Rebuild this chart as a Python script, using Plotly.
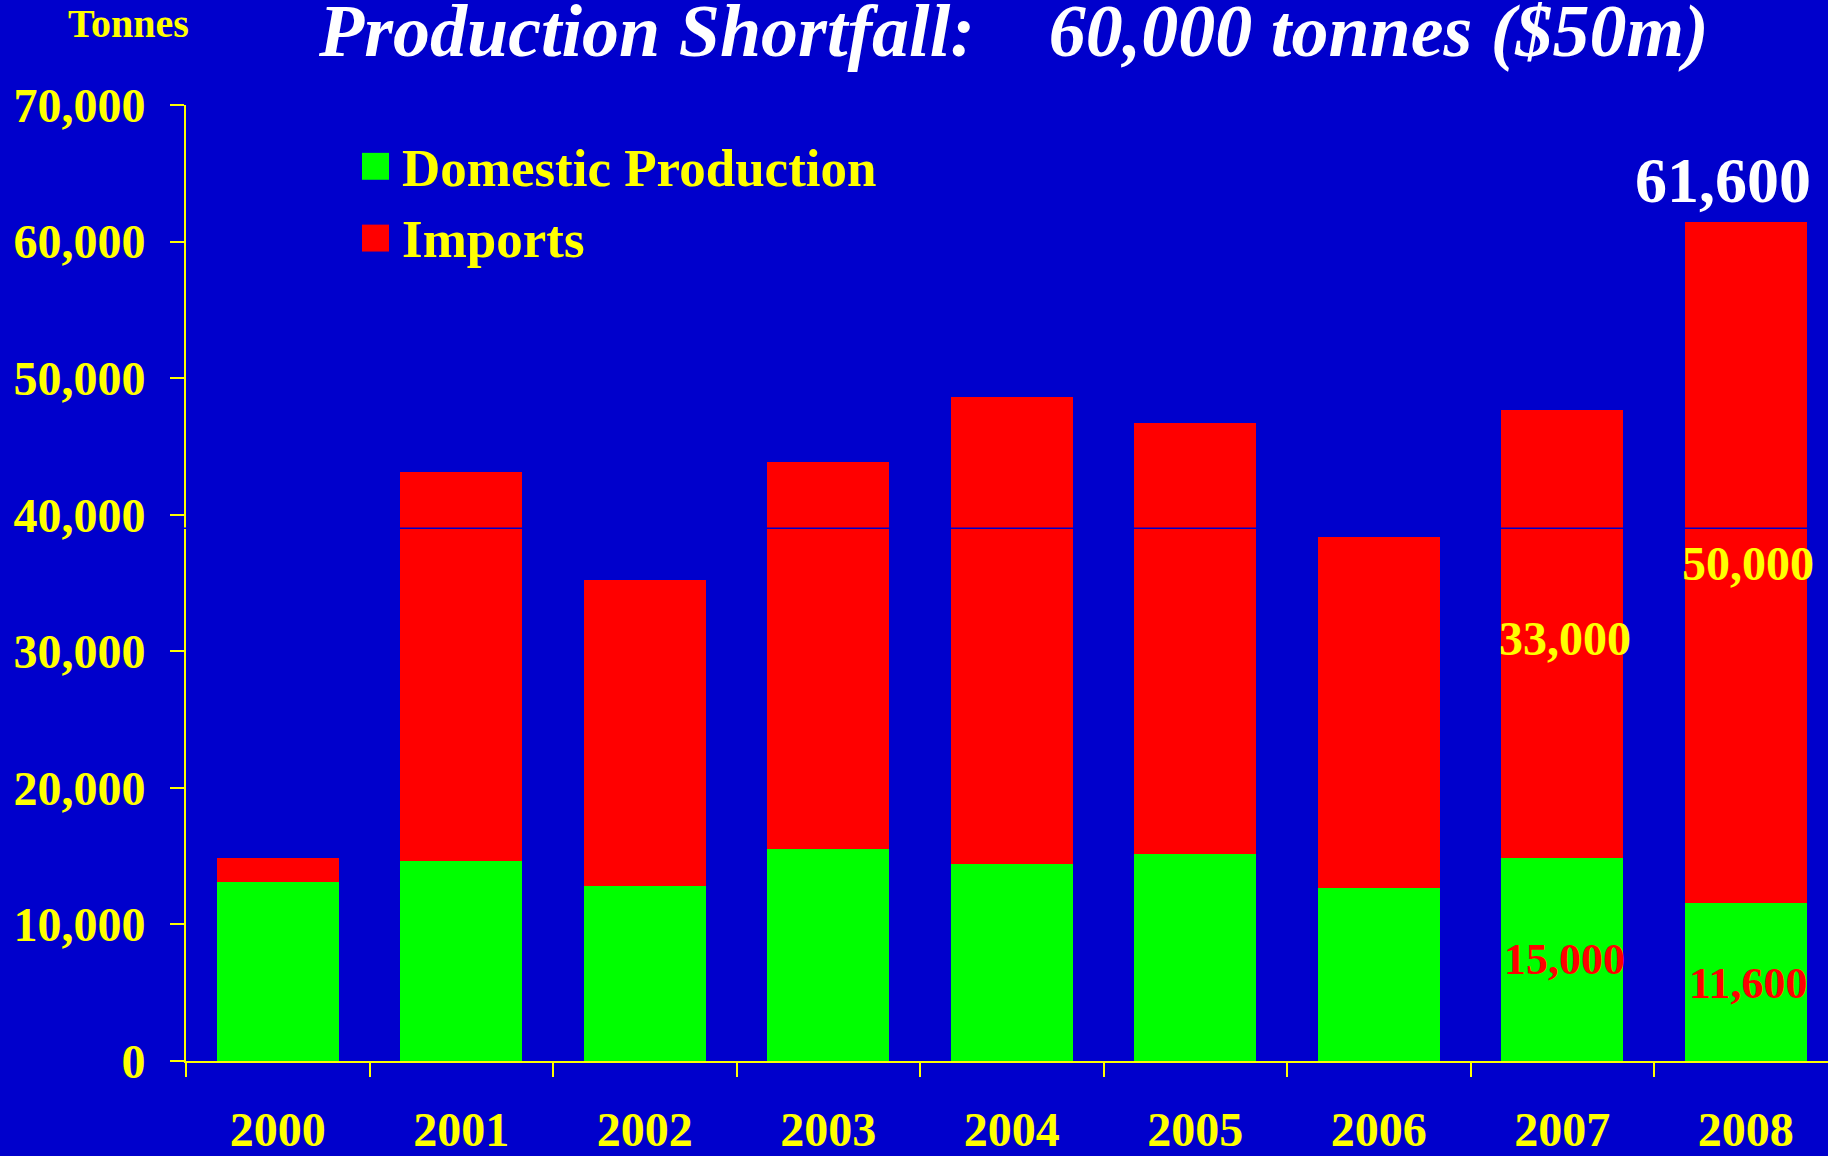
import plotly.graph_objects as go

# ---- data ----
years = ["2000", "2001", "2002", "2003", "2004", "2005", "2006", "2007", "2008"]
domestic = [13100, 14650, 12850, 15500, 14400, 15150, 12700, 14850, 11600]
imports = [1800, 28450, 22400, 28350, 34250, 31550, 25650, 32800, 49800]
y_ticks = [0, 10000, 20000, 30000, 40000, 50000, 60000, 70000]
y_tick_labels = ["0", "10,000", "20,000", "30,000", "40,000", "50,000", "60,000", "70,000"]
series_names = ["Domestic Production", "Imports"]
title_text = "Production Shortfall:\u00a0\u00a0\u00a0 60,000 tonnes ($50m)"
unit_text = "Tonnes"
total_label = "61,600"
import_labels = {"2007": "33,000", "2008": "50,000"}
domestic_labels = {"2007": "15,000", "2008": "11,600"}

BG = "#0000CC"
GREEN = "#00FF00"
RED = "#FF0000"
YELLOW = "#FFFF00"
FONT = "Liberation Serif"

W, H = 1828, 1156
L, R, T, B = 186, 0, 105, 92
PW, PH = W - L - R, H - T - B
CAT_W = 183.5

def px_x(px):
    return (px - L) / PW

def px_y(py):
    return (H - B - py) / PH

def idx(year):
    return years.index(year)

fig = go.Figure()
fig.add_trace(go.Bar(x=years, y=domestic, name=series_names[0],
                     marker=dict(color=GREEN, line=dict(width=0)), showlegend=False))
fig.add_trace(go.Bar(x=years, y=imports, name=series_names[1],
                     marker=dict(color=RED, line=dict(width=0)), showlegend=False))

ann = []
# title
ann.append(dict(text=title_text, xref="paper", yref="paper", x=px_x(1013), y=px_y(31),
                xanchor="center", yanchor="middle", showarrow=False,
                font=dict(family=FONT, size=74, color="white", weight="bold", style="italic")))
# unit label
ann.append(dict(text=unit_text, xref="paper", yref="paper", x=px_x(128), y=px_y(23),
                xanchor="center", yanchor="middle", showarrow=False,
                font=dict(family=FONT, size=40, color=YELLOW, weight="bold")))
# legend (manual)
legend_rows = [(series_names[0], GREEN, 153, 168), (series_names[1], RED, 225, 239)]
shapes = []
for name, col, top, mid in legend_rows:
    shapes.append(dict(type="rect", xref="paper", yref="paper",
                       x0=px_x(362), x1=px_x(389), y0=px_y(top + 27), y1=px_y(top),
                       fillcolor=col, line=dict(width=0)))
    ann.append(dict(text=name, xref="paper", yref="paper", x=px_x(400), y=px_y(mid),
                    xanchor="left", yanchor="middle", showarrow=False,
                    font=dict(family=FONT, size=53, color=YELLOW, weight="bold")))

# value labels
ann.append(dict(text=total_label, xref="x", yref="y", x=idx("2008"), y=64500, xshift=-23,
                xanchor="center", yanchor="middle", showarrow=False,
                font=dict(family=FONT, size=64, color="white", weight="bold")))
ann.append(dict(text=import_labels["2008"], xref="x", yref="y", x=idx("2008"), y=36400, xshift=2,
                xanchor="center", yanchor="middle", showarrow=False,
                font=dict(family=FONT, size=48, color=YELLOW, weight="bold")))
ann.append(dict(text=import_labels["2007"], xref="x", yref="y", x=idx("2007"), y=30950, xshift=3,
                xanchor="center", yanchor="middle", showarrow=False,
                font=dict(family=FONT, size=48, color=YELLOW, weight="bold")))
ann.append(dict(text=domestic_labels["2007"], xref="x", yref="y", x=idx("2007"), y=7400, xshift=2,
                xanchor="center", yanchor="middle", showarrow=False,
                font=dict(family=FONT, size=44, color=RED, weight="bold")))
ann.append(dict(text=domestic_labels["2008"], xref="x", yref="y", x=idx("2008"), y=5700, xshift=3,
                xanchor="center", yanchor="middle", showarrow=False,
                font=dict(family=FONT, size=44, color=RED, weight="bold")))

# thin scan line artifact across chart
shapes.append(dict(type="line", xref="paper", yref="y", x0=-0.01, x1=1, y0=39000, y1=39000,
                   line=dict(color=BG, width=1.5), layer="above"))

fig.update_layout(
    width=W, height=H,
    margin=dict(l=L, r=R, t=T, b=B, pad=0),
    paper_bgcolor=BG, plot_bgcolor=BG,
    barmode="stack", bargap=0.335,
    annotations=ann, shapes=shapes,
    showlegend=False,
)
fig.update_xaxes(type="category", range=[-0.5, (W - L) / CAT_W - 0.5],
                 tickson="boundaries", ticks="outside", ticklen=14, tickwidth=2, tickcolor=YELLOW,
                 showline=True, linecolor=YELLOW, linewidth=2, showgrid=False, zeroline=False,
                 ticklabelstandoff=25,
                 tickfont=dict(family=FONT, size=48, color=YELLOW, weight="bold"))
fig.update_yaxes(range=[0, 70000], tickvals=y_ticks, ticktext=y_tick_labels,
                 ticks="outside", ticklen=14, tickwidth=2, tickcolor=YELLOW,
                 showline=True, linecolor=YELLOW, linewidth=2, showgrid=False, zeroline=False,
                 ticklabelstandoff=15,
                 tickfont=dict(family=FONT, size=48, color=YELLOW, weight="bold"))

fig.write_html("out.html", config={"displayModeBar": False},
               post_script="document.body.style.margin='0';document.body.style.overflow='hidden';")
